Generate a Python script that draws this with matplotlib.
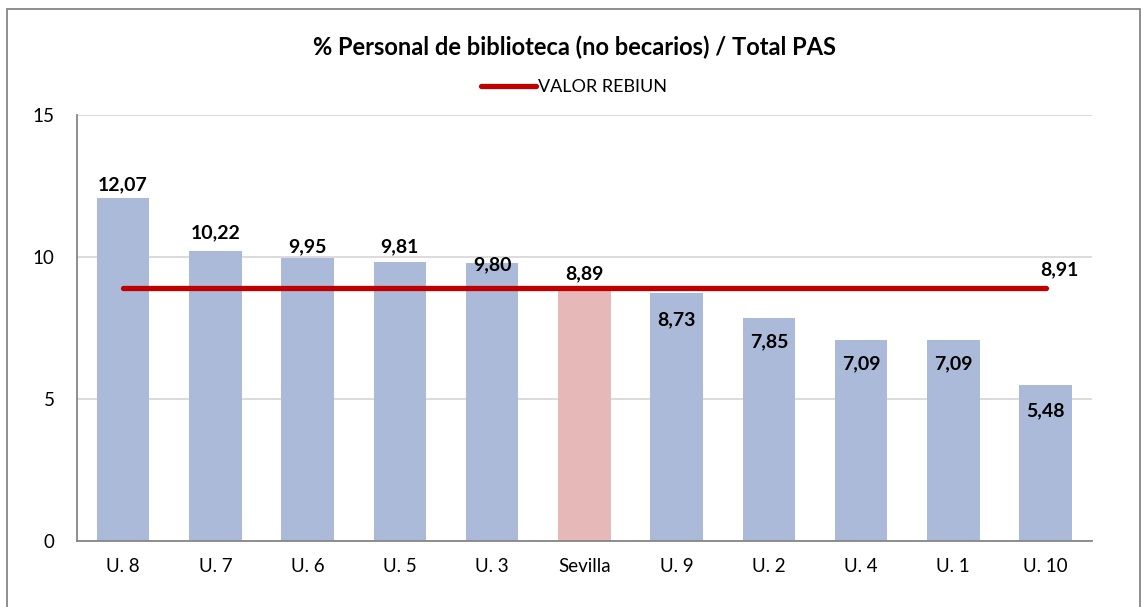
import matplotlib
matplotlib.use("Agg")
import matplotlib.pyplot as plt
from matplotlib.patches import Rectangle

plt.rcParams["font.family"] = ["Lato", "DejaVu Sans"]

# --- datos ---
universidades = ["U. 8", "U. 7", "U. 6", "U. 5", "U. 3", "Sevilla",
                 "U. 9", "U. 2", "U. 4", "U. 1", "U. 10"]
porcentajes = [12.07, 10.22, 9.95, 9.81, 9.80, 8.89, 8.73, 7.85, 7.09, 7.09, 5.48]
valor_rebiun = 8.91

# --- estilo ---
COLOR_BAR = "#ABBAD8"
COLOR_SEVILLA = "#E6B9B8"
COLOR_REBIUN = "#C00000"
# desplazamiento vertical de cada etiqueta respecto al tope de la barra (px)
label_offsets_px = [13, 18, 12, 16, -2, 15, -27, -24, -24, -24, -25]

fig = plt.figure(figsize=(11.42, 6.07), dpi=100)
ax = fig.add_axes([0.0674, 0.1087, 0.8886, 0.7018])

x = list(range(len(universidades)))
colors = [COLOR_SEVILLA if u == "Sevilla" else COLOR_BAR for u in universidades]
ax.bar(x, porcentajes, width=0.57, color=colors, zorder=2)

ax.plot([x[0], x[-1]], [valor_rebiun, valor_rebiun], color=COLOR_REBIUN,
        linewidth=3.8, solid_capstyle="round", zorder=3, label="VALOR REBIUN")

for xi, v, off in zip(x, porcentajes, label_offsets_px):
    ax.annotate(f"{v:.2f}".replace(".", ","), (xi, v), xytext=(0, off * 0.72),
                textcoords="offset points", ha="center", va="center",
                fontsize=14, fontweight="bold", color="black", zorder=4)

ax.annotate(f"{valor_rebiun:.2f}".replace(".", ","), (x[-1], valor_rebiun),
            xytext=(10, 13), textcoords="offset points", ha="center", va="center",
            fontsize=14, fontweight="bold", color="black", zorder=4)

ax.set_xlim(-0.5, len(universidades) - 0.5)
ax.set_ylim(0, 15)
ax.set_yticks([0, 5, 10, 15])
ax.set_xticks(x)
ax.set_xticklabels(universidades)
ax.tick_params(axis="both", length=0, labelsize=13.5, colors="black")
ax.tick_params(axis="y", pad=16)
ax.tick_params(axis="x", pad=12)
ax.yaxis.grid(True, color="#D9D9D9", linewidth=1.3, zorder=0)
ax.set_axisbelow(True)
for s in ["top", "right"]:
    ax.spines[s].set_visible(False)
for s in ["left", "bottom"]:
    ax.spines[s].set_color("#868686")
    ax.spines[s].set_linewidth(1.3)

fig.text(0.5035, 1 - 47 / 607, "% Personal de biblioteca (no becarios) / Total PAS",
         ha="center", va="center", fontsize=17, fontweight="bold")

fig.legend(loc="center", bbox_to_anchor=(0.503, 1 - 87 / 607), frameon=False,
           fontsize=13, handlelength=3.0, handletextpad=0.15)

# marco exterior del gráfico
fig.patches.append(Rectangle((7 / 1142, -0.01), 1133 / 1142, 1 - 9 / 607 + 0.01,
                             transform=fig.transFigure, fill=False,
                             edgecolor="#868686", linewidth=1.3))

fig.savefig("out.png", dpi=100)
